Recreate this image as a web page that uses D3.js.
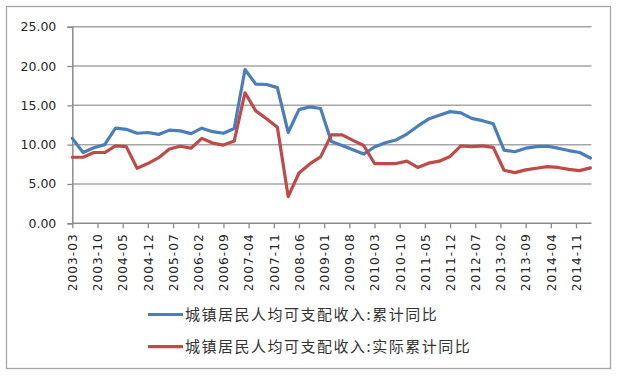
<!DOCTYPE html>
<html>
<head>
<meta charset="utf-8">
<script src="https://cdn.jsdelivr.net/npm/d3@7"></script>
<style>
  html, body { margin: 0; padding: 0; background: #ffffff; }
  svg { display: block; }
</style>
</head>
<body>
<svg id="chart" width="621" height="379"></svg>
<script>
// ---- data ----
const periods = [
  "2003-03","2003-06","2003-09","2003-12",
  "2004-03","2004-06","2004-09","2004-12",
  "2005-03","2005-06","2005-09","2005-12",
  "2006-03","2006-06","2006-09","2006-12",
  "2007-03","2007-06","2007-09","2007-12",
  "2008-03","2008-06","2008-09","2008-12",
  "2009-03","2009-06","2009-09","2009-12",
  "2010-03","2010-06","2010-09","2010-12",
  "2011-03","2011-06","2011-09","2011-12",
  "2012-03","2012-06","2012-09","2012-12",
  "2013-03","2013-06","2013-09","2013-12",
  "2014-03","2014-06","2014-09","2014-12",
  "2015-03"
];
const nominalGrowth = [
  10.8, 9.0, 9.6, 10.0,
  12.1, 11.95, 11.45, 11.55,
  11.3, 11.85, 11.75, 11.4,
  12.1, 11.65, 11.45, 12.05,
  19.55, 17.7, 17.65, 17.25,
  11.55, 14.45, 14.8, 14.6,
  10.4, 9.9, 9.35, 8.8,
  9.7, 10.25, 10.6, 11.35,
  12.35, 13.25, 13.75, 14.2,
  14.05, 13.35, 13.05, 12.65,
  9.3, 9.1, 9.55, 9.75,
  9.8, 9.55, 9.25, 9.0,
  8.3
];
const realGrowth = [
  8.4, 8.4, 9.0, 9.0,
  9.85, 9.75, 7.0, 7.6,
  8.35, 9.45, 9.8, 9.55,
  10.8, 10.2, 9.95, 10.45,
  16.6, 14.3, 13.3, 12.2,
  3.4, 6.4, 7.55, 8.45,
  11.25, 11.25, 10.55, 9.9,
  7.6, 7.6, 7.6, 7.9,
  7.1, 7.65, 7.9, 8.5,
  9.85, 9.75, 9.85, 9.65,
  6.75, 6.45, 6.8, 7.0,
  7.2, 7.1, 6.85, 6.7,
  7.05
];
const xTickLabels = [
  "2003-03","2003-10","2004-05","2004-12","2005-07","2006-02","2006-09",
  "2007-04","2007-11","2008-06","2009-01","2009-08","2010-03","2010-10",
  "2011-05","2011-12","2012-07","2013-02","2013-09","2014-04","2014-11"
];
const yTicks = [0, 5, 10, 15, 20, 25];
const seriesNames = ["城镇居民人均可支配收入:累计同比", "城镇居民人均可支配收入:实际累计同比"];
const seriesColors = ["#4a7ebb", "#be4b48"];

// ---- layout ----
const plotLeft = 72.3, plotRight = 591.5, plotTop = 26.7, plotBottom = 223.3;
const monthIndex = s => { const [y, m] = s.split("-").map(Number); return (y - 2003) * 12 + (m - 3); };

const svg = d3.select("#chart");

// outer frame
svg.append("rect")
  .attr("x", 6.5).attr("y", 6.5).attr("width", 604).attr("height", 362)
  .attr("fill", "#ffffff").attr("stroke", "#a6a6a6").attr("stroke-width", 1.3);

const x = d3.scaleLinear()
  .domain([0, monthIndex(periods[periods.length - 1])])
  .range([plotLeft, 590.4]);
const y = d3.scaleLinear().domain([0, 25]).range([plotBottom, plotTop]);

// gridlines
svg.append("g").selectAll("line")
  .data(yTicks.filter(d => d > 0))
  .join("line")
  .attr("x1", plotLeft).attr("x2", plotRight)
  .attr("y1", d => y(d)).attr("y2", d => y(d))
  .attr("stroke", "#a6a6a6").attr("stroke-width", 1.5);

// y axis
const yAxis = svg.append("g")
  .attr("transform", `translate(${plotLeft},0)`)
  .call(d3.axisLeft(y).tickValues(yTicks).tickFormat(d3.format(".2f")).tickSize(5).tickPadding(11));
yAxis.select(".domain").attr("stroke", "#8c8c8c").attr("stroke-width", 1.5);
yAxis.selectAll(".tick line").attr("stroke", "#8c8c8c").attr("stroke-width", 1.3);
yAxis.selectAll("text")
  .attr("font-family", "DejaVu Sans, sans-serif")
  .attr("font-size", 12.5)
  .attr("fill", "#262626");

// x axis
const xAxis = svg.append("g")
  .attr("transform", `translate(0,${plotBottom})`)
  .call(d3.axisBottom(x)
    .tickValues(xTickLabels.map(monthIndex))
    .tickFormat((d, i) => xTickLabels[i])
    .tickSize(5));
xAxis.select(".domain").remove();
xAxis.append("line")
  .attr("x1", plotLeft).attr("x2", plotRight).attr("y1", 0).attr("y2", 0)
  .attr("stroke", "#8c8c8c").attr("stroke-width", 1.5);
xAxis.selectAll(".tick line").attr("stroke", "#8c8c8c").attr("stroke-width", 1.3);
xAxis.selectAll(".tick text")
  .attr("font-family", "DejaVu Sans, sans-serif")
  .attr("font-size", 12.2)
  .attr("letter-spacing", "1px")
  .attr("fill", "#262626")
  .attr("text-anchor", "end")
  .attr("dy", null)
  .attr("y", 0)
  .attr("transform", "translate(0,10) rotate(-90) translate(0,4.3)");

// lines
const seriesData = [nominalGrowth, realGrowth];
const line = d3.line()
  .x((d, i) => x(monthIndex(periods[i])))
  .y(d => y(d));
svg.append("g").selectAll("path")
  .data(seriesData)
  .join("path")
  .attr("d", d => line(d))
  .attr("fill", "none")
  .attr("stroke", (d, i) => seriesColors[i])
  .attr("stroke-width", 3.2)
  .attr("stroke-linejoin", "round")
  .attr("stroke-linecap", "round");

// legend
const legendY = [314.5, 346.7];
const legend = svg.append("g").selectAll("g")
  .data(seriesNames)
  .join("g")
  .attr("transform", (d, i) => `translate(148,${legendY[i]})`);
legend.append("line")
  .attr("x1", 0).attr("x2", 35).attr("y1", 0).attr("y2", 0)
  .attr("stroke", (d, i) => seriesColors[i])
  .attr("stroke-width", 3.2);
legend.append("text")
  .attr("x", 37).attr("y", 0).attr("dy", "0.36em")
  .attr("font-family", "Noto Sans CJK SC, sans-serif")
  .attr("font-size", 15)
  .attr("letter-spacing", "1.5px")
  .attr("fill", "#333333")
  .text(d => d);
</script>
</body>
</html>
